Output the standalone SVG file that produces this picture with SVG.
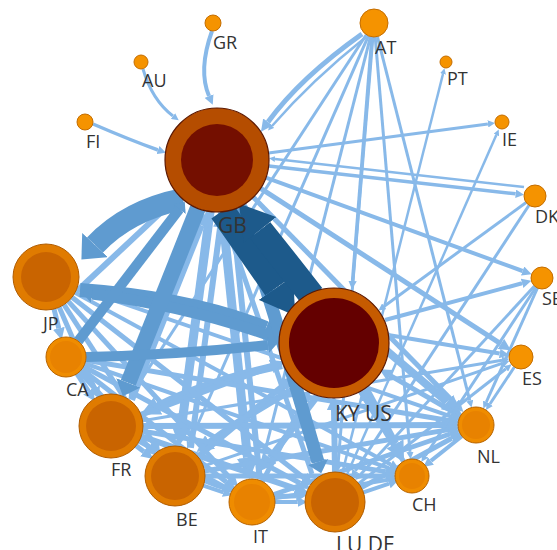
<svg xmlns="http://www.w3.org/2000/svg" width="557" height="550" viewBox="0 0 557 550">
<defs>
<style>
.l{fill:none;stroke:#88b9e9;marker-end:url(#al)}
.m{fill:none;stroke:#5f9bd0;marker-end:url(#am)}
.d{fill:none;stroke:#1d5a8b;marker-end:url(#ad)}
.sm{fill:#f59300;stroke:#c46d00;stroke-width:1}
.o1{fill:#e07b00;stroke:#b05c00;stroke-width:1}
.o2{fill:#ef8c00;stroke:#b86400;stroke-width:1}
.i1{fill:#c96400}
.i2{fill:#e88200}
.lbl{font-family:"Open Sans","DejaVu Sans",sans-serif;font-size:18px;fill:#333}
.big{font-size:21px}
</style>
<marker id="al" viewBox="0 0 10 10" markerWidth="2.4" markerHeight="2.4" refX="0" refY="5" orient="auto"><path d="M0,0 L10,5 L0,10 z" fill="#88b9e9"/></marker>
<marker id="am" viewBox="0 0 9 16" markerWidth="0.9" markerHeight="1.6" refX="0" refY="8" orient="auto"><path d="M0,0 L9,8 L0,16 z" fill="#5f9bd0"/></marker>
<marker id="ad" viewBox="0 0 13 16" markerWidth="1.3" markerHeight="1.6" refX="0" refY="8" orient="auto"><path d="M0,0 L13,8 L0,16 z" fill="#1d5a8b"/></marker>
</defs>
<rect width="557" height="550" fill="#fff"/>
<g id="connectors">
<path class="l" stroke-width="4" d="M212,31 Q198,70 209,96"/>
<path class="l" stroke-width="3" d="M143,69 Q152,100 173,116"/>
<path class="l" stroke-width="3.5" d="M93,124 Q130,140 158,150"/>
<path class="l" stroke-width="5" d="M362,34 Q300,78 268,122"/>
<path class="l" stroke-width="2.5" d="M366,37 Q312,80 272,126"/>
<path class="l" stroke-width="3" d="M268.5,153.1 L487.9,123.9"/>
<path class="l" stroke-width="3.5" d="M268.7,165.9 L515.7,193.8"/>
<path class="l" stroke-width="2.5" d="M524,187 L275,159"/>
<path class="l" stroke-width="4" d="M265.9,177.7 L522.6,271"/>
<path class="l" stroke-width="5" d="M260.6,188.3 L500.9,343.9"/>
<path class="l" stroke-width="5" d="M253.4,197.2 L455,403.5"/>
<path class="l" stroke-width="4" d="M244.3,204.3 L398,453.4"/>
<path class="l" stroke-width="9" d="M222.3,211.7 L247.5,457.6"/>
<path class="l" stroke-width="9" d="M210.1,211.5 L181.8,424.9"/>
<path class="l" stroke-width="6" d="M76,292 L168.5,205.4"/>
<path class="l" stroke-width="6" d="M132,400 L201.7,225.4"/>
<path class="l" stroke-width="6" d="M190.9,447.9 L220.1,227.4"/>
<path class="l" stroke-width="6" d="M259.7,478.1 L233.8,225.1"/>
<path class="l" stroke-width="5" d="M312,474 L226,224"/>
<path class="l" stroke-width="3.5" d="M372,37 L352.6,281"/>
<path class="l" stroke-width="3" d="M372.9,37 L338,465"/>
<path class="l" stroke-width="3" d="M370.5,36.6 L259.5,472.7"/>
<path class="l" stroke-width="3" d="M368.4,35.8 L190,442"/>
<path class="l" stroke-width="3" d="M366.3,34.7 L132.4,393.2"/>
<path class="l" stroke-width="3" d="M375.2,37 L410,451.9"/>
<path class="l" stroke-width="3" d="M377.4,36.6 L469.8,400.6"/>
<path class="l" stroke-width="2.5" d="M342.3,472.9 L443,74"/>
<path class="l" stroke-width="2.5" d="M347,474.5 L496.3,135"/>
<path class="l" stroke-width="3" d="M529,205.2 L355.3,470.9"/>
<path class="l" stroke-width="3" d="M526.1,202.5 L384.2,306.3"/>
<path class="l" stroke-width="4" d="M388,335 L499.7,353.5"/>
<path class="l" stroke-width="4" d="M385,320 L522.1,283.3"/>
<path class="l" stroke-width="8" d="M365,388 L395,444"/>
<path class="l" stroke-width="8" d="M380,345 L447,402"/>
<path class="l" stroke-width="7" d="M318,395 L270,458"/>
<path class="l" stroke-width="7" d="M300,386 Q250,412 210,442"/>
<path class="l" stroke-width="8" d="M282,365 Q210,380 158,406"/>
<path class="l" stroke-width="6" d="M335,472 L334,410"/>
<path class="l" stroke-width="5" d="M262.5,481.6 L304.4,400.4"/>
<path class="l" stroke-width="6" d="M198,456.7 L282.6,386"/>
<path class="l" stroke-width="6" d="M141,414.8 L271.2,366.4"/>
<path class="l" stroke-width="5" d="M460.4,416 L389.9,375.3"/>
<path class="l" stroke-width="5" d="M403.4,461.3 L366.7,398.8"/>
<path class="l" stroke-width="6" d="M143,426 L446,425"/>
<path class="l" stroke-width="5" d="M204.6,471 L448.8,429.6"/>
<path class="l" stroke-width="5" d="M273.8,494.5 L449.9,434"/>
<path class="l" stroke-width="5" d="M361.3,487.6 L451.8,438.2"/>
<path class="l" stroke-width="4" d="M77.2,287.7 L452.2,416.8"/>
<path class="l" stroke-width="5" d="M85.7,360.3 L448.8,420.5"/>
<path class="l" stroke-width="4" d="M461.9,436.2 L430.9,460.9"/>
<path class="l" stroke-width="5" d="M142.6,431.2 L385.7,471.6"/>
<path class="l" stroke-width="5" d="M205,476 L385.4,476"/>
<path class="l" stroke-width="4" d="M274.7,498.3 L388.1,479.9"/>
<path class="l" stroke-width="4" d="M75,292.8 L390.7,464.4"/>
<path class="l" stroke-width="4" d="M84.9,363.5 L389.1,468.1"/>
<path class="l" stroke-width="6" d="M141.3,436.3 L295.2,488.5"/>
<path class="l" stroke-width="5" d="M204.6,480.8 Q250,500 295.9,495.7"/>
<path class="l" stroke-width="4" d="M275,502 L297.8,502"/>
<path class="l" stroke-width="5" d="M83.6,366.5 L300.2,483.2"/>
<path class="l" stroke-width="5" d="M72,297.3 L303.8,477.7"/>
<path class="l" stroke-width="5" d="M64,304.7 L153.5,442.8"/>
<path class="l" stroke-width="5" d="M68.3,301.4 L230,478"/>
<path class="l" stroke-width="5" d="M59.2,307.2 L94.4,387.9"/>
<path class="l" stroke-width="5" d="M76.9,373.7 L88.3,391.2"/>
<path class="l" stroke-width="5" d="M79.5,371.7 L148.3,446.8"/>
<path class="l" stroke-width="5" d="M81.8,369.3 L226.3,482"/>
<path class="l" stroke-width="5" d="M136.2,445.7 L143.8,451.6"/>
<path class="l" stroke-width="5" d="M139.2,441.2 L223.3,486.5"/>
<path class="l" stroke-width="4" d="M203.4,485.6 L223.4,492.3"/>
<path class="l" stroke-width="4" d="M363.4,492.4 L389.1,483.7"/>
<path class="l" stroke-width="5" d="M54,309 L58.8,328.3"/>
<path class="l" stroke-width="3" d="M142.6,420.7 L502.1,360.2"/>
<path class="l" stroke-width="3" d="M203.4,466.2 L502.8,363.2"/>
<path class="l" stroke-width="3" d="M358.7,483.5 L505.9,368.8"/>
<path class="l" stroke-width="3" d="M514.4,367 L489.9,404"/>
<path class="l" stroke-width="3" d="M537.5,288 L486.3,402"/>
<path class="l" stroke-width="3" d="M536,287.2 L425.3,455.8"/>
<path class="l" stroke-width="3" d="M534.5,286.1 L360.3,474.7"/>
<path class="m" stroke-width="22" d="M183,199 Q128,210 95,245"/>
<path class="m" stroke-width="14" d="M80,290 Q190,298 266,328"/>
<path class="m" stroke-width="11" d="M282,340 Q190,306 92,294"/>
<path class="m" stroke-width="16" d="M197.8,208.3 L128.2,382.9"/>
<path class="m" stroke-width="13" d="M240,207 Q280,330 318,462"/>
<path class="m" stroke-width="10" d="M78.2,341.1 L179.3,209.2"/>
<path class="m" stroke-width="10" d="M86,357 Q180,355 268,345"/>
<path class="d" stroke-width="26" d="M222,211 Q249,249 276,288"/>
<path class="d" stroke-width="26" d="M312,296 Q284,260 260,230"/>
</g>
<g id="node-GR"><circle class="sm" cx="213" cy="23" r="8"/><text class="lbl" x="213" y="49">GR</text></g>
<g id="node-AU"><circle class="sm" cx="141" cy="62" r="7"/><text class="lbl" x="142" y="87">AU</text></g>
<g id="node-FI"><circle class="sm" cx="85" cy="122" r="8"/><text class="lbl" x="86" y="148">FI</text></g>
<g id="node-AT"><circle class="sm" cx="374" cy="23" r="14"/><text class="lbl" x="375" y="54">AT</text></g>
<g id="node-PT"><circle class="sm" cx="446" cy="62" r="6"/><text class="lbl" x="447" y="85">PT</text></g>
<g id="node-IE"><circle class="sm" cx="502" cy="122" r="7"/><text class="lbl" x="502" y="146">IE</text></g>
<g id="node-DK"><circle class="sm" cx="535" cy="196" r="11"/><text class="lbl" x="535" y="223">DK</text></g>
<g id="node-SE"><circle class="sm" cx="542" cy="278" r="11"/><text class="lbl" x="542" y="305">SE</text></g>
<g id="node-ES"><circle class="sm" cx="521" cy="357" r="12"/><text class="lbl" x="522" y="385">ES</text></g>
<g id="node-NL"><circle class="o2" cx="476" cy="425" r="18"/><circle class="i2" cx="476" cy="425" r="14"/><text class="lbl" x="477" y="463">NL</text></g>
<g id="node-CH"><circle class="o2" cx="412" cy="476" r="17"/><circle class="i2" cx="412" cy="476" r="13"/><text class="lbl" x="412" y="511">CH</text></g>
<g id="node-LUDE"><circle class="o1" cx="335" cy="502" r="30"/><circle class="i1" cx="335" cy="502" r="24"/><text class="lbl big" x="336" y="552">LU DE</text></g>
<g id="node-IT"><circle class="o2" cx="252" cy="502" r="23"/><circle class="i2" cx="252" cy="502" r="18"/><text class="lbl" x="253" y="543">IT</text></g>
<g id="node-BE"><circle class="o1" cx="175" cy="476" r="30"/><circle class="i1" cx="175" cy="476" r="24"/><text class="lbl" x="176" y="526">BE</text></g>
<g id="node-FR"><circle class="o1" cx="111" cy="426" r="32"/><circle class="i1" cx="111" cy="426" r="25"/><text class="lbl" x="111" y="476">FR</text></g>
<g id="node-CA"><circle class="o2" cx="66" cy="357" r="20"/><circle class="i2" cx="66" cy="357" r="16"/><text class="lbl" x="66" y="396">CA</text></g>
<g id="node-JP"><circle class="o1" cx="46" cy="277" r="33"/><circle class="i1" cx="46" cy="277" r="25"/><text class="lbl" x="43" y="330">JP</text></g>
<g id="node-GB"><circle cx="217" cy="160" r="52" fill="#b54d00" stroke="#5c1800" stroke-width="1.2"/><circle cx="217" cy="160" r="36" fill="#740f00"/><text class="lbl big" x="218" y="233">GB</text></g>
<g id="node-KYUS"><circle cx="334" cy="343" r="55" fill="#c65b00" stroke="#5c1800" stroke-width="1.2"/><circle cx="334" cy="343" r="45" fill="#640000"/><text class="lbl big" x="335" y="421">KY US</text></g>
</svg>
